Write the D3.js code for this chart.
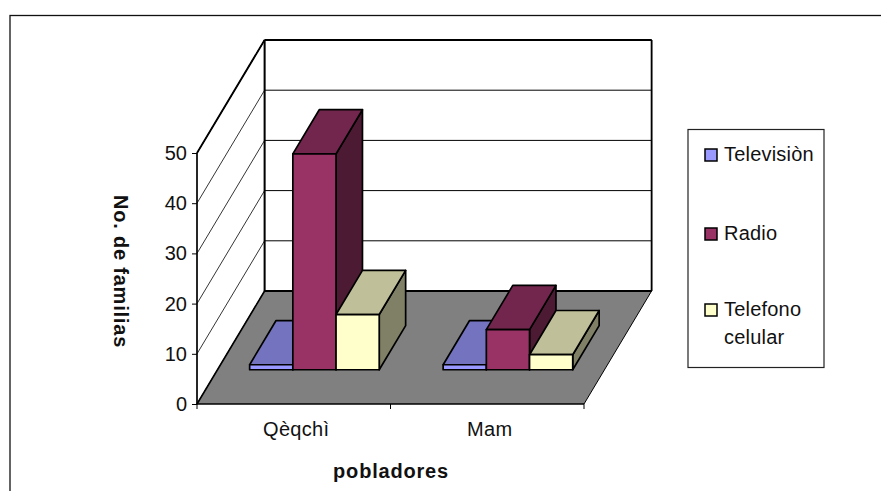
<!DOCTYPE html>
<html><head><meta charset="utf-8">
<script src="https://cdn.jsdelivr.net/npm/d3@7"></script>
<style>html,body{margin:0;padding:0;background:#fff;overflow:hidden}svg{display:block}text{font-family:"Liberation Sans",Arial,sans-serif;fill:#111}</style>
</head><body><svg id="c" width="881" height="491"></svg>
<script>
const categories = ["Qèqchì", "Mam"];
const seriesNames = ["Televisiòn", "Radio", "Telefono celular"];
const television = [1, 1];
const radio = [43, 8];
const telefono = [11, 3];
const yTicks = [0, 10, 20, 30, 40, 50];
const faceFront = ["#9999FF", "#993366", "#FFFFCC"];
const faceTop = ["#7373BF", "#73264D", "#BFBF99"];
const faceSide = ["#4D4D80", "#4D1A33", "#808066"];

const svg = d3.select("#c");
const series = [television, radio, telefono];
const Y = d3.scaleLinear().domain([0, 50]).range([404, 153]);
const X = d3.scaleBand().domain(categories).range([197, 584]);
const inner = d3.scaleBand().domain(d3.range(3)).range([0, X.bandwidth()]).paddingOuter(0.74).paddingInner(0);
const depth = {dx: 67.6, dy: -113};
const P = (x, v, d) => [x + depth.dx * d, Y(v) + depth.dy * d];
const poly = (pts, fill, sw) => svg.append("path").attr("d", d3.line()(pts) + "Z")
  .attr("fill", fill).attr("stroke", "#000").attr("stroke-width", sw).attr("stroke-linejoin", "round");
const ln = (a, b, sw) => svg.append("line").attr("x1", a[0]).attr("y1", a[1]).attr("x2", b[0]).attr("y2", b[1])
  .attr("stroke", "#000").attr("stroke-width", sw);

// chart frame: its right and bottom edges run past the picture
svg.append("rect").attr("x", 10).attr("y", 15.5).attr("width", 900).attr("height", 520)
  .attr("fill", "#fff").attr("stroke", "#111").attr("stroke-width", 1.3);

const [x0, x1] = X.range();
// walls
poly([P(x0, 0, 0), P(x0, 50, 0), P(x0, 50, 1), P(x0, 0, 1)], "#fff", 1);
poly([P(x0, 0, 1), P(x0, 50, 1), P(x1, 50, 1), P(x1, 0, 1)], "#fff", 1);
// gridlines
yTicks.slice(1).forEach(t => {
  ln(P(x0, t, 0), P(x0, t, 1), 0.8);
  ln(P(x0, t, 1), P(x1, t, 1), 1);
});
// floor
svg.append("path").attr("d", d3.line()([P(x0,0,0),P(x1,0,0),P(x1,0,1),P(x0,0,1)]) + "Z").attr("fill", "#808080");
ln(P(x1,0,0), P(x1,0,1), 1);
ln(P(x0,0,1), P(x1,0,1), 2);
ln(P(x0,0,0), P(x0,0,1), 1.6);
ln(P(x0,50,0), P(x0,50,1), 1.8);
ln(P(x0,0,1), P(x0,50,1), 2);
ln(P(x0,50,1), P(x1,50,1), 1.8);
ln(P(x1,0,1), P(x1,50,1), 1.8);

// bars
const d0 = 0.303, d1 = 0.694;
categories.forEach((c, ci) => {
  series.forEach((s, si) => {
    const v = s[ci];
    const lx = X(c) + inner(si) + 0.2, rx = lx + inner.bandwidth();
    const sw = 1.7;
    poly([P(rx,0,d0),P(rx,v,d0),P(rx,v,d1),P(rx,0,d1)], faceSide[si], sw);
    poly([P(lx,v,d0),P(rx,v,d0),P(rx,v,d1),P(lx,v,d1)], faceTop[si], sw);
    poly([P(lx,0,d0),P(rx,0,d0),P(rx,v,d0),P(lx,v,d0)], faceFront[si], sw);
  });
});

// axes
const ax = svg.append("g").attr("transform", `translate(${x0},0)`).call(d3.axisLeft(Y).tickValues(yTicks).tickSize(5).tickPadding(5));
ax.selectAll("path").attr("d", `M0,${Y(50)}V${Y(0)}`).attr("stroke", "#000").attr("stroke-width", 1.4);
ax.selectAll("text").attr("font-size", 20).attr("font-family", '"Liberation Sans"');
const ax2 = svg.append("g").attr("transform", `translate(0,${Y(0)})`);
ax2.append("line").attr("x1", x0).attr("x2", x1).attr("stroke", "#000").attr("stroke-width", 1.3);
[x0, x0 + X.bandwidth(), x1].forEach(t => ax2.append("line").attr("x1", t).attr("x2", t).attr("y2", 5).attr("stroke", "#000"));
categories.forEach(c => svg.append("text").attr("x", X(c) + X.bandwidth()/2 + 2.5).attr("y", 436).attr("text-anchor", "middle").attr("font-size", 20).attr("letter-spacing", 0.3).text(c));

// titles
svg.append("text").attr("x", 391).attr("y", 478).attr("text-anchor", "middle").attr("font-size", 20).attr("font-weight", "bold").attr("letter-spacing", 0.8).text("pobladores");
svg.append("text").attr("transform", "translate(114,271.5) rotate(90)").attr("text-anchor", "middle").attr("font-size", 20).attr("font-weight", "bold").attr("letter-spacing", 0.8).text("No. de familias");

// legend
svg.append("rect").attr("x", 688).attr("y", 129.5).attr("width", 136).attr("height", 238).attr("fill", "#fff").attr("stroke", "#222").attr("stroke-width", 1.2);
const legY = [155, 234, 310];
seriesNames.forEach((n, i) => {
  svg.append("rect").attr("x", 705).attr("y", legY[i] - 6).attr("width", 12).attr("height", 12).attr("fill", faceFront[i]).attr("stroke", "#000").attr("stroke-width", 1.5);
  const parts = n === "Telefono celular" ? ["Telefono", "celular"] : [n];
  parts.forEach((p, j) => svg.append("text").attr("x", 724).attr("y", legY[i] + 6 + j * 28).attr("font-size", 20).attr("letter-spacing", 0.2).text(p));
});
</script></body></html>
